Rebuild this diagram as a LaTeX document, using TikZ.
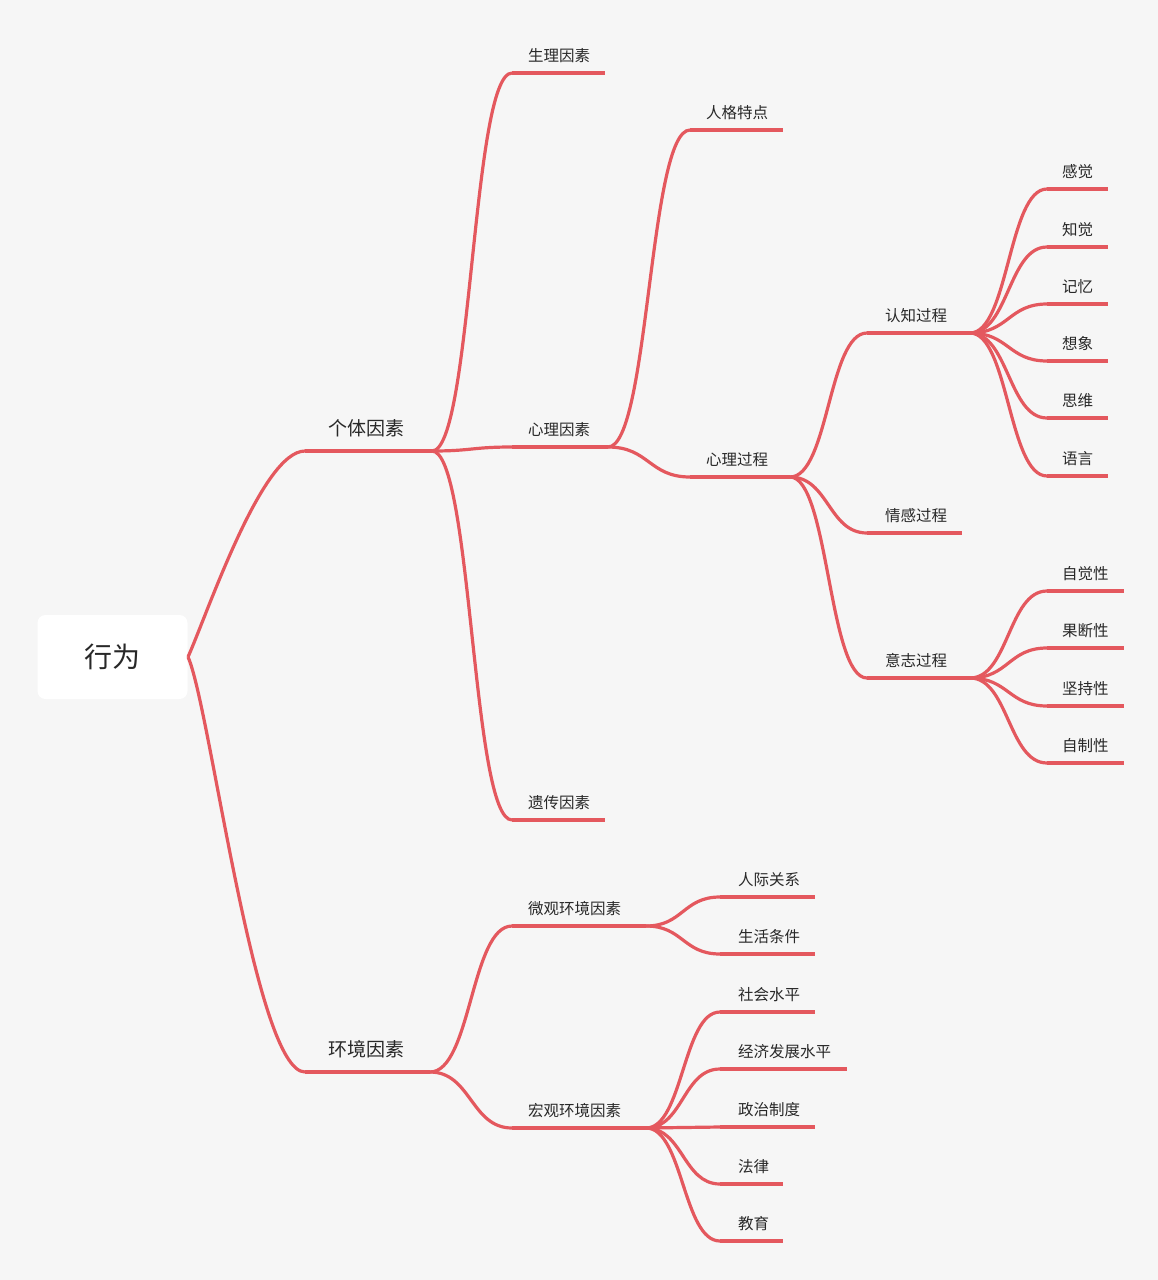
\documentclass[tikz,border=0pt]{standalone}
\usepackage{fontspec}
\setmainfont{Noto Sans CJK SC}
\usetikzlibrary{calc}
\definecolor{bgc}{RGB}{246,246,246}
\definecolor{linkc}{RGB}{228,88,94}
\definecolor{txtc}{RGB}{40,40,40}
\tikzset{
  link/.style={draw=linkc, line width=3.2pt},
  smalltxt/.style={inner sep=0pt, text=txtc, font=\fontsize{15.5}{18}\selectfont, anchor=base west},
  bigtxt/.style={inner sep=0pt, text=txtc, font=\fontsize{19}{22}\selectfont, anchor=base west},
  rootbox/.style={fill=white, rounded corners=8pt, minimum width=150pt, minimum height=84pt, inner sep=0pt, text=txtc, font=\fontsize{28}{32}\selectfont},
}
% topic: name, start x, end x, line y, text x, text
\newcommand{\stopic}[6]{%
  \coordinate (#1-s) at (#2,#4);
  \coordinate (#1-e) at (#3,#4);
  \draw[link] (#1-s) -- (#1-e);
  \node[smalltxt] (#1) at (#5,#4-12) {#6};
}
\newcommand{\btopic}[6]{%
  \coordinate (#1-s) at (#2,#4);
  \coordinate (#1-e) at (#3,#4);
  \draw[link] (#1-s) -- (#1-e);
  \node[bigtxt] (#1) at (#5,#4-16) {#6};
}
\newcommand{\conn}[2]{%
  \draw[link] let \p1=(#1), \p2=(#2) in
    (\p1) .. controls ({0.5*\x1+0.5*\x2},\y1) and ({0.5*\x1+0.5*\x2},\y2) .. (\p2);
}
\begin{document}
\begin{tikzpicture}[x=1pt,y=-1pt]
\fill[bgc] (0,0) rectangle (1158,1280);
\useasboundingbox (0,0) rectangle (1158,1280);

% level 1
\btopic{gt}{305}{432}{451}{328}{个体因素}
\btopic{hj}{305}{430}{1072}{328}{环境因素}

% level 2
\stopic{sl}{512}{605}{73}{528}{生理因素}
\stopic{xl}{512}{608}{447}{528}{心理因素}
\stopic{yc}{512}{605}{820}{528}{遗传因素}
\stopic{wg}{512}{646}{926}{528}{微观环境因素}
\stopic{hg}{512}{646}{1128}{528}{宏观环境因素}

% level 3
\stopic{rg}{690}{783}{130}{706}{人格特点}
\stopic{xg}{690}{790}{477}{706}{心理过程}

% level 4
\stopic{rz}{867}{970}{333}{885}{认知过程}
\stopic{qg}{867}{962}{533}{885}{情感过程}
\stopic{yz}{867}{970}{678}{885}{意志过程}

% leaves of 认知过程
\stopic{gj}{1047}{1108}{189}{1062}{感觉}
\stopic{zj}{1047}{1108}{247}{1062}{知觉}
\stopic{jy}{1047}{1108}{304}{1062}{记忆}
\stopic{xx}{1047}{1108}{361}{1062}{想象}
\stopic{sw}{1047}{1108}{418}{1062}{思维}
\stopic{yy}{1047}{1108}{476}{1062}{语言}

% leaves of 意志过程
\stopic{zjx}{1047}{1124}{591}{1062}{自觉性}
\stopic{gdx}{1047}{1124}{648}{1062}{果断性}
\stopic{jcx}{1047}{1124}{706}{1062}{坚持性}
\stopic{zzx}{1047}{1124}{763}{1062}{自制性}

% leaves of 微观
\stopic{rj}{720}{815}{897}{738}{人际关系}
\stopic{sh}{720}{815}{954}{738}{生活条件}

% leaves of 宏观
\stopic{shsp}{720}{815}{1012}{738}{社会水平}
\stopic{jj}{720}{847}{1069}{738}{经济发展水平}
\stopic{zz}{720}{815}{1127}{738}{政治制度}
\stopic{fl}{720}{783}{1184}{738}{法律}
\stopic{jyu}{720}{783}{1241}{738}{教育}

% root
\node[rootbox] (root) at (112.5,657) {\raisebox{-0.3ex}{行为}};
\coordinate (root-e) at (188,657);

% connectors
\draw[link] (root-e) .. controls (208,612) and (262,451) .. (gt-s);
\draw[link] (root-e) .. controls (210,705) and (255,1072) .. (hj-s);

\conn{gt-e}{sl-s}
\conn{gt-e}{xl-s}
\conn{gt-e}{yc-s}

\conn{xl-e}{rg-s}
\conn{xl-e}{xg-s}

\conn{xg-e}{rz-s}
\conn{xg-e}{qg-s}
\conn{xg-e}{yz-s}

\conn{rz-e}{gj-s}
\conn{rz-e}{zj-s}
\conn{rz-e}{jy-s}
\conn{rz-e}{xx-s}
\conn{rz-e}{sw-s}
\conn{rz-e}{yy-s}

\conn{yz-e}{zjx-s}
\conn{yz-e}{gdx-s}
\conn{yz-e}{jcx-s}
\conn{yz-e}{zzx-s}

\conn{hj-e}{wg-s}
\conn{hj-e}{hg-s}

\conn{wg-e}{rj-s}
\conn{wg-e}{sh-s}

\conn{hg-e}{shsp-s}
\conn{hg-e}{jj-s}
\conn{hg-e}{zz-s}
\conn{hg-e}{fl-s}
\conn{hg-e}{jyu-s}
\end{tikzpicture}
\end{document}
